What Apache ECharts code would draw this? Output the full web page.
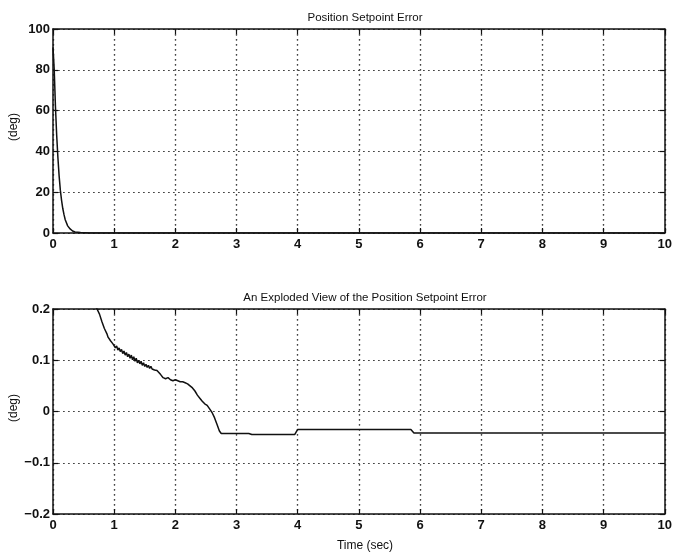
<!DOCTYPE html>
<html><head><meta charset="utf-8">
<script src="https://cdn.jsdelivr.net/npm/echarts@6/dist/echarts.min.js"></script>
<style>html,body{margin:0;padding:0;background:#fff}#c{width:675px;height:553px}</style>
</head><body><div id="c"></div>
<script>
const topTitle = "Position Setpoint Error";
const bottomTitle = "An Exploded View of the Position Setpoint Error";
const xLabel = "Time (sec)";
const yLabel = "(deg)";
const xTicks = [0,1,2,3,4,5,6,7,8,9,10];
const topYTicks = [0,20,40,60,80,100];
const bottomYTicks = [-0.2,-0.1,0,0.1,0.2];
const topTime = [0,0.02,0.04,0.06,0.08,0.1,0.12,0.14,0.16,0.18,0.2,0.24,0.28,0.32,0.36,0.45,0.6,1,10];
const topError = [91,80,62,48,37,28,21,16,12,9,6.5,3.5,2,1,0.5,0.2,0.05,0,0];
const bottomTime = [0.70,0.72,0.76,0.8,0.84,0.88,0.9,0.92,0.94,0.96,0.98,1.0,1.02,1.04,1.06,1.08,1.10,1.12,1.14,1.16,1.18,1.20,1.22,1.24,1.26,1.28,1.30,1.32,1.34,1.36,1.38,1.40,1.42,1.44,1.46,1.48,1.50,1.52,1.54,1.56,1.58,1.60,1.62,1.64,1.66,1.68,1.70,1.72,1.76,1.80,1.84,1.88,1.92,1.96,2.0,2.04,2.08,2.12,2.16,2.2,2.24,2.28,2.32,2.36,2.4,2.44,2.48,2.52,2.56,2.6,2.64,2.68,2.72,2.75,3.2,3.25,3.95,4.0,5.85,5.9,10];
const bottomError = [0.205,0.2,0.19,0.175,0.162,0.152,0.145,0.142,0.138,0.135,0.132,0.13,0.124,0.128,0.12,0.124,0.117,0.121,0.113,0.118,0.11,0.115,0.107,0.112,0.104,0.11,0.101,0.107,0.098,0.104,0.095,0.1,0.093,0.098,0.09,0.095,0.088,0.092,0.086,0.09,0.084,0.088,0.083,0.086,0.081,0.084,0.08,0.078,0.072,0.066,0.064,0.066,0.062,0.06,0.062,0.06,0.058,0.058,0.056,0.054,0.05,0.046,0.04,0.032,0.026,0.02,0.015,0.012,0.005,-0.002,-0.012,-0.025,-0.038,-0.043,-0.043,-0.045,-0.045,-0.035,-0.035,-0.042,-0.042];

const font = 'Liberation Sans, Arial, sans-serif';
const chart = echarts.init(document.getElementById('c'));
const frame = {show:true, onZero:false, lineStyle:{color:'#111', width:1.5}};
const tick = {show:true, inside:true, length:5, lineStyle:{color:'#111', width:1.2}};
const grid = {show:true, lineStyle:{color:'#444', type:[1.5,3.5], width:1.2}};
const lab = {color:'#111', fontFamily:font, fontSize:13, fontWeight:'bold'};
function xAx(g, pos, showLab){
  return {type:'value', gridIndex:g, position:pos, min:0, max:10, interval:1,
    axisLine:frame, axisTick:tick, splitLine:{show:showLab, ...grid},
    axisLabel:{show:showLab, margin:5, ...lab}};
}
function yAx(g, pos, showLab, mn, mx, iv, fmt){
  return {type:'value', gridIndex:g, position:pos, min:mn, max:mx, interval:iv,
    axisLine:frame, axisTick:tick, splitLine:{show:showLab, ...grid},
    axisLabel:{show:showLab, margin:3, formatter:fmt, ...lab}};
}
chart.setOption({
  animation:false,
  backgroundColor:'#fff',
  title:[
    {text:topTitle, left:360, top:7, textAlign:'center', textStyle:{fontFamily:font, fontSize:11.5, fontWeight:'normal', color:'#111'}},
    {text:bottomTitle, left:360, top:287, textAlign:'center', textStyle:{fontFamily:font, fontSize:11.5, fontWeight:'normal', color:'#111'}},
    {text:xLabel, left:360, top:535, textAlign:'center', textStyle:{fontFamily:font, fontSize:12, fontWeight:'normal', color:'#111'}}
  ],
  graphic:[
    {type:'text', x:14, y:127, rotation:Math.PI/2, style:{text:yLabel, font:'12px '+font, fill:'#111', align:'center', verticalAlign:'middle'}},
    {type:'text', x:14, y:408, rotation:Math.PI/2, style:{text:yLabel, font:'12px '+font, fill:'#111', align:'center', verticalAlign:'middle'}}
  ],
  grid:[
    {left:53, right:9, top:29, height:204},
    {left:53, right:9, top:309, height:205}
  ],
  xAxis:[xAx(0,'bottom',true), xAx(0,'top',false), xAx(1,'bottom',true), xAx(1,'top',false)],
  yAxis:[
    yAx(0,'left',true,0,100,20,v=>String(v)),
    yAx(0,'right',false,0,100,20),
    yAx(1,'left',true,-0.2,0.2,0.1,v=>{const r=Math.round(v*10)/10; return r===0?'0':(r<0?'\u2212'+Math.abs(r):String(r));}),
    yAx(1,'right',false,-0.2,0.2,0.1)
  ],
  series:[
    {type:'line', xAxisIndex:0, yAxisIndex:0, data:topTime.map((t,i)=>[t,topError[i]]), showSymbol:false, clip:true, lineStyle:{color:'#111', width:1.5}},
    {type:'line', xAxisIndex:2, yAxisIndex:2, data:bottomTime.map((t,i)=>[t,bottomError[i]]), showSymbol:false, clip:true, lineStyle:{color:'#111', width:1.5}}
  ]
});
</script></body></html>
